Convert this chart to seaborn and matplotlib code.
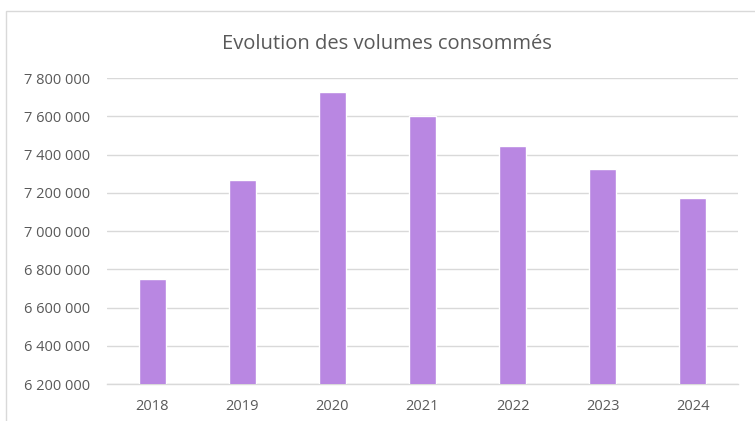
import matplotlib
matplotlib.use("Agg")
import matplotlib.pyplot as plt
from matplotlib.patches import Rectangle
from matplotlib.ticker import FuncFormatter, MultipleLocator
import seaborn as sns
import pandas as pd

# Données
# -----------------------------------------------------------------------
annees = ["2018", "2019", "2020", "2021", "2022", "2023", "2024"]
volumes = [6750000, 7265000, 7725000, 7600000, 7445000, 7322000, 7172000]

df = pd.DataFrame({"annee": annees, "volume": volumes})

# Style
# -----------------------------------------------------------------------
sns.set_style("white")
plt.rcParams["font.family"] = ["Open Sans", "DejaVu Sans"]
gris_texte = "#595959"
gris_grille = "#D9D9D9"

fig = plt.figure(figsize=(7.55, 4.21), dpi=100)
ax = fig.add_axes([107 / 755, 1 - 384 / 421, (738 - 107) / 755, (384 - 78) / 421])

sns.barplot(data=df, x="annee", y="volume", color="#B987E2", saturation=1,
            width=0.3, ax=ax, zorder=3)

ax.set_ylim(6200000, 7800000)
ax.yaxis.set_major_locator(MultipleLocator(200000))
ax.yaxis.set_major_formatter(FuncFormatter(lambda v, p: f"{int(v):,}".replace(",", " ")))
ax.grid(axis="y", color=gris_grille, linewidth=1, zorder=0)
ax.set_xlim(-0.5, len(annees) - 0.5)

for s in ["top", "right", "left"]:
    ax.spines[s].set_visible(False)
ax.spines["bottom"].set_color(gris_grille)
ax.spines["bottom"].set_linewidth(1)

ax.tick_params(axis="both", length=0, colors=gris_texte, labelsize=10.5)
ax.tick_params(axis="x", pad=11)
ax.tick_params(axis="y", pad=12)
ax.set_xlabel("")
ax.set_ylabel("")

fig.text(387 / 755, 1 - 44 / 421, "Evolution des volumes consommés",
         ha="center", va="center", fontsize=14.5, color=gris_texte)

# cadre du graphique
fig.patches.append(Rectangle((6 / 755, -0.05), 1.1, 1 - 11 / 421 + 0.05,
                             transform=fig.transFigure, fill=False,
                             edgecolor="#D9D9D9", linewidth=1))

fig.savefig("out.png", dpi=100)
